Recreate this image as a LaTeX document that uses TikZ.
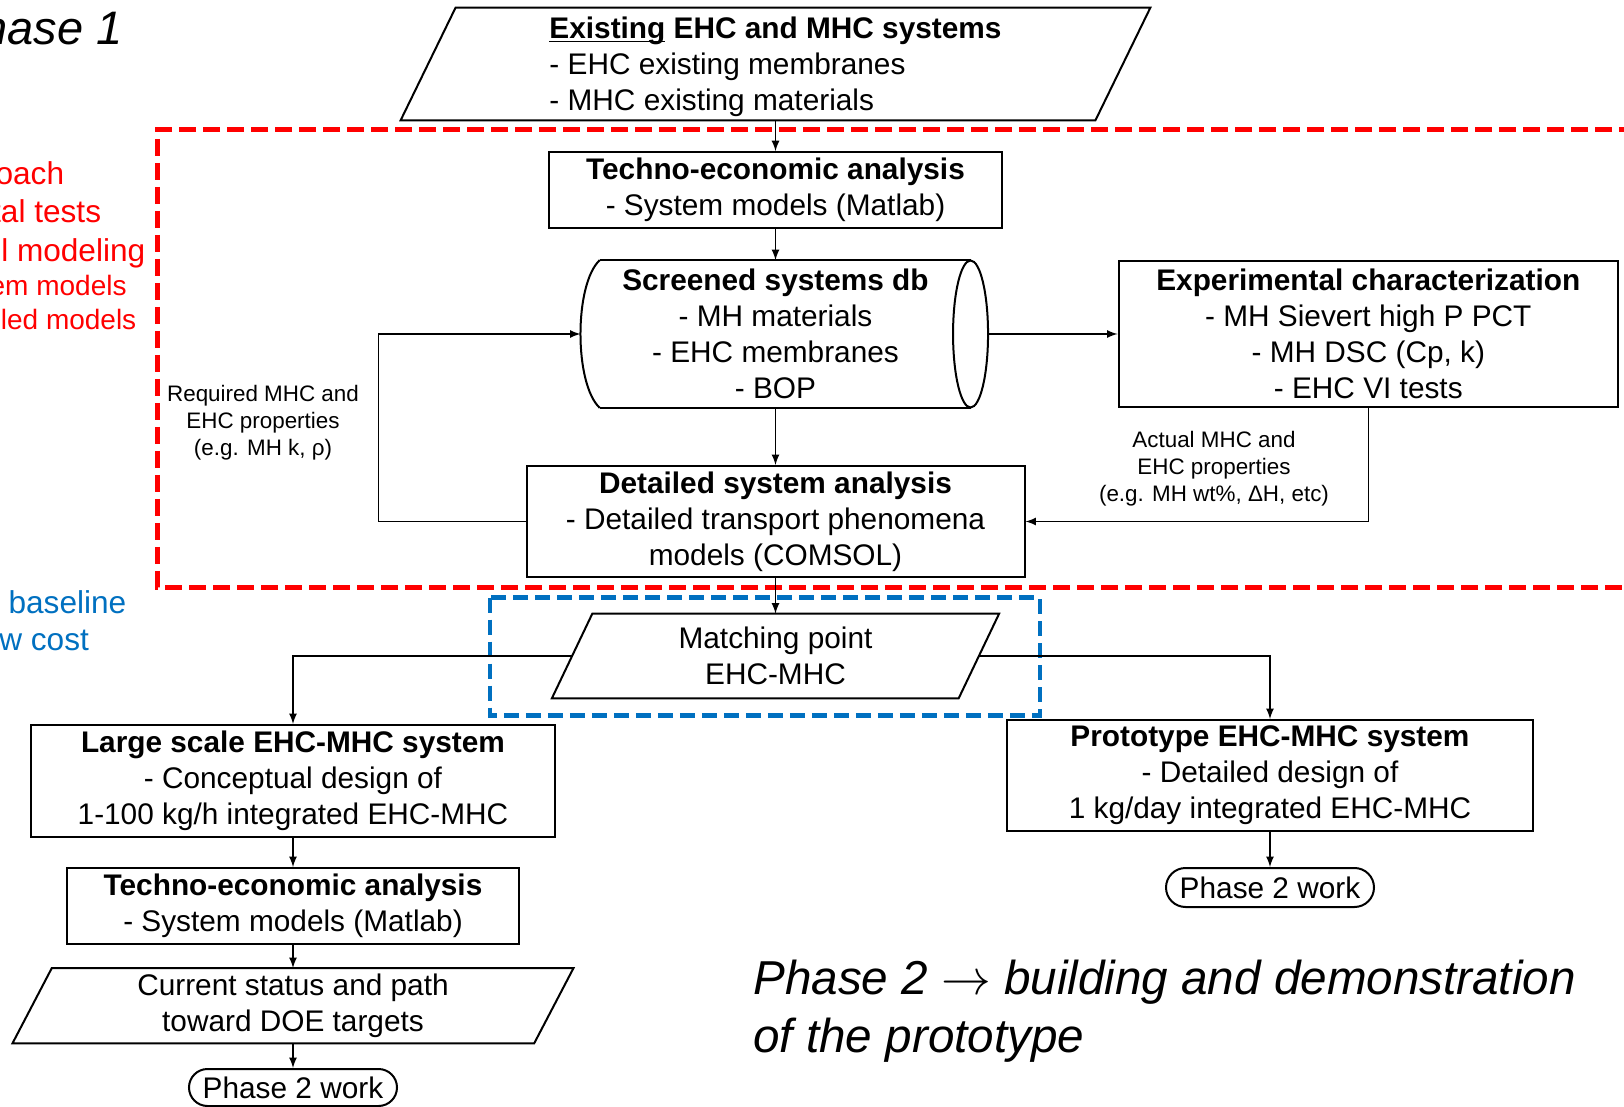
\documentclass[tikz,border=0pt]{standalone}
\usepackage{fontspec}
\setmainfont{Liberation Sans}
\usepackage[rgb]{xcolor}
\usepackage{tikz}

\definecolor{phasered}{RGB}{255,0,0}
\definecolor{phaseblue}{RGB}{0,112,192}

\newcommand{\boxfont}{\fontsize{14.9}{18}\selectfont}
\newcommand{\notefont}{\fontsize{11.2}{13.5}\selectfont}

\begin{document}
\begin{tikzpicture}[x=0.5pt, y=-0.5pt, >=latex,
  box/.style={draw, line width=1pt, align=center, inner sep=0pt, font=\boxfont},
  plain/.style={align=center, inner sep=0pt, font=\boxfont},
  note/.style={align=center, inner sep=0pt, font=\notefont},
  link/.style={->, line width=0.8pt},
  edge/.style={line width=1pt},
  redtext/.style={anchor=base east, inner sep=0pt, text=phasered},
  bluetext/.style={anchor=base east, inner sep=0pt, text=phaseblue, font=\fontsize{15.8}{19}\selectfont}]

\useasboundingbox (0,0) rectangle (1624,1107);

% Phase 1 frame (red) and matching frame (blue)
\draw[phasered, line width=2.5pt, dash pattern=on 8.5pt off 3.5pt] (1660,129.5) -- (157.4,129.5) -- (157.4,587) -- (1660,587);
\draw[phaseblue, line width=2.25pt, dash pattern=on 7.5pt off 3.5pt] (489.9,597.6) rectangle (1039.8,715.7);


% Side texts, cut at the left edge
\node[anchor=base east, inner sep=0pt, font=\fontsize{23.5}{28}\selectfont\itshape] (phaseone) at (123,45) {hase 1};

\node[redtext, font=\fontsize{15.8}{19}\selectfont] (redA) at (64.5,185) {oach};
\node[redtext, font=\fontsize{15.8}{19}\selectfont] (redB) at (101.5,222.7) {tal tests};
\node[redtext, font=\fontsize{15.8}{19}\selectfont] (redC) at (145.7,261.7) {l modeling};
\node[redtext, font=\fontsize{14}{17}\selectfont] (redD) at (127,296) {em models};
\node[redtext, font=\fontsize{14}{17}\selectfont] (redE) at (136.7,330) {led models};

\node[bluetext] (blueA) at (126.7,613.3) {f baseline};
\node[bluetext] (blueB) at (89.3,650) {w cost};


% Existing systems (input)
\node[plain, align=left, minimum width=374.5pt, minimum height=56pt] (exist) at (775.5,64)
  {\rule{0pt}{14pt}\textbf{\underline{\smash{Existing}} EHC and MHC systems}\\- EHC existing membranes\\- MHC existing materials};
\draw[edge] ([xshift=27.5pt]exist.north west) -- (exist.north east) -- ([xshift=-27.5pt]exist.south east) -- (exist.south west) -- cycle;

% Techno-economic analysis (phase 1)
\node[box, minimum width=226.3pt, minimum height=37.85pt] (techA) at (775.5,190)
  {\textbf{Techno-economic analysis}\\- System models (Matlab)};

% Screened systems db (stored data)
\node[plain, minimum width=194.65pt, minimum height=73.5pt] (screen) at (775.5,334)
  {\textbf{Screened systems db}\\- MH materials\\- EHC membranes\\- BOP};
\draw[edge] ([xshift=9.65pt]screen.north west) -- (screen.north east)
  ([xshift=9.65pt]screen.south west) -- (screen.south east);
\draw[edge] ([xshift=9.65pt]screen.north west) .. controls ([xshift=-3.2pt,yshift=-12pt]screen.north west) and ([xshift=-3.2pt,yshift=12pt]screen.south west) .. ([xshift=9.65pt]screen.south west);
\draw[edge] (screen.east) ellipse [x radius=8.75pt, y radius=36.75pt];

% Experimental characterization
\node[box, minimum width=249.75pt, minimum height=73pt] (exper) at (1368.3,334)
  {\textbf{Experimental characterization}\\- MH Sievert high P PCT\\- MH DSC (Cp, k)\\- EHC VI tests};

% Detailed system analysis
\node[box, minimum width=249pt, minimum height=55.5pt] (detail) at (775.5,521.5)
  {\textbf{Detailed system analysis}\\- Detailed transport phenomena\\models (COMSOL)};

% Property labels
\node[note] (required) at (263,422.6) {Required MHC and\\EHC properties\\(e.g. MH k, ρ)};
\node[note] (actual) at (1214,469) {Actual MHC and\\EHC properties\\(e.g. MH wt\%, Δ{}H, etc)};

% Matching point
\node[plain, minimum width=223.25pt, minimum height=42pt] (match) at (775.5,656)
  {Matching point\\EHC-MHC};
\draw[edge] ([xshift=20.25pt]match.north west) -- (match.north east) -- ([xshift=-20.25pt]match.south east) -- (match.south west) -- cycle;


% Large scale branch
\node[box, minimum width=262pt, minimum height=56pt] (large) at (293,781)
  {\textbf{Large scale EHC-MHC system}\\- Conceptual design of\\1-100 kg/h integrated EHC-MHC};

\node[box, minimum width=226.35pt, minimum height=37.75pt] (techB) at (293,905.8)
  {\textbf{Techno-economic analysis}\\- System models (Matlab)};

\node[plain, minimum width=280.15pt, minimum height=37.3pt] (status) at (293,1005.7)
  {Current status and path\\toward DOE targets};
\draw[edge] ([xshift=19.7pt]status.north west) -- (status.north east) -- ([xshift=-19.7pt]status.south east) -- (status.south west) -- cycle;

\node[box, rounded corners=9.25pt, minimum width=104pt, minimum height=18.5pt] (endA) at (293,1087.5) {Phase 2 work};


% Prototype branch
\node[box, minimum width=262.6pt, minimum height=55.3pt] (proto) at (1270,775.3)
  {\textbf{Prototype EHC-MHC system}\\- Detailed design of\\1 kg/day integrated EHC-MHC};

\node[box, rounded corners=9.75pt, minimum width=104pt, minimum height=19.5pt] (endB) at (1270,887.5) {Phase 2 work};


% Phase 2 caption
\node[anchor=west, inner sep=0pt, align=left, font=\fontsize{23.8}{29}\selectfont\itshape] (phasetwo) at (753,1011)
  {Phase 2 $\rightarrow$ building and demonstration\\of the prototype};


% Connectors
\draw[link] (exist.south) -- (techA.north);
\draw[link] (techA.south) -- (screen.north);
\draw[link] (screen.south) -- (detail.north);
\draw[link] (detail.west) -- ++(-147,0) |- (screen.west);
\draw[link] ([xshift=8.75pt]screen.east) -- (exper.west);
\draw[link] (exper.south) |- (detail.east);
\draw[link] (detail.south) -- (match.north);
\draw[link] ([xshift=10.125pt]match.west) -| (large.north);
\draw[link] ([xshift=-10.125pt]match.east) -| (proto.north);
\draw[link] (large.south) -- (techB.north);
\draw[link] (techB.south) -- (status.north);
\draw[link] (status.south) -- (endA.north);
\draw[link] (proto.south) -- (endB.north);

\end{tikzpicture}
\end{document}
